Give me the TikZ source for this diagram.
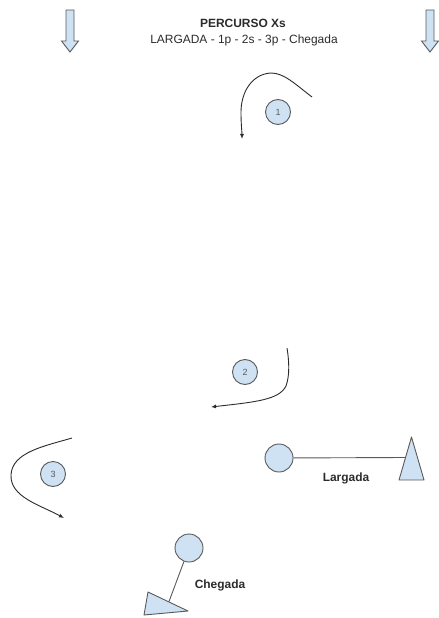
\documentclass[tikz,border=0pt]{standalone}
\usepackage{fontspec}
\setmainfont{Liberation Sans}
\usetikzlibrary{arrows.meta}
\definecolor{fillblue}{HTML}{CFE2F3}
\definecolor{edge}{HTML}{595959}
\definecolor{ink}{HTML}{2B2B2B}
\begin{document}
\begin{tikzpicture}[x=1bp,y=-1bp,
  buoy/.style={circle,draw=edge,fill=fillblue,line width=0.9bp,minimum size=25bp,inner sep=0pt,font=\fontsize{9}{10}\selectfont,text=edge},
  endbuoy/.style={circle,draw=edge,fill=fillblue,line width=0.9bp,minimum size=28bp,inner sep=0pt},
  tri/.style={draw=edge,fill=fillblue,line width=0.9bp,line join=round},
  downarrow/.style={draw=edge,fill=fillblue,line width=0.9bp},
  route/.style={draw=ink,line width=0.9bp,-{Latex[length=5bp,width=4bp]}},
  lineconn/.style={draw=edge,line width=0.9bp},
  lbl/.style={text=ink,inner sep=0pt,font=\fontsize{12}{14}\selectfont},
  boldlbl/.style={text=ink,inner sep=0pt,font=\fontsize{12}{14}\selectfont\bfseries}
]
\useasboundingbox (0,0) rectangle (439,618);

% down arrows
\foreach \cx in {70,430}{
  \draw[downarrow] (\cx-4,10) -- (\cx+4,10) -- (\cx+4,41) -- (\cx+8.5,41) -- (\cx,52) -- (\cx-8.5,41) -- (\cx-4,41) -- cycle;
}

% title
\node[boldlbl] (title) at (243,23) {PERCURSO Xs};
\node[lbl] (sub) at (244,40) {LARGADA - 1p - 2s - 3p - Chegada};

% numbered buoys
\node[buoy] (b1) at (278,112) {1};
\node[buoy] (b2) at (245,372) {2};
\node[buoy] (b3) at (53,474) {3};

% rounding paths
\coordinate (r1s) at (312,97);
\coordinate (r1e) at (242,139);
\draw[route] (r1s) .. controls (295,84) and (284,73) .. (271,73)
  .. controls (252,74) and (241,92) .. (241,112)
  .. controls (241,125) and (242,132) .. (r1e);

\coordinate (r2s) at (287,348);
\coordinate (r2e) at (211,407);
\draw[route] (r2s) .. controls (289,360) and (290,375) .. (286,386)
  .. controls (279,400) and (255,402) .. (r2e);

\coordinate (r3s) at (72,438);
\coordinate (r3e) at (64,518);
\draw[route] (r3s) .. controls (45,446) and (12,452) .. (11,475)
  .. controls (10,497) and (40,505) .. (r3e);

% start line
\node[endbuoy] (ls) at (279,458) {};
\draw[tri] (411.5,437) -- (424,480) -- (399,480) -- cycle;
\coordinate (lt) at (405,457.5);
\draw[lineconn] (ls) -- (lt);
\node[boldlbl] (llbl) at (346,478) {Largada};

% finish line
\node[endbuoy] (cs) at (189,548) {};
\draw[tri] (148,592) -- (188,611) -- (144,615) -- cycle;
\coordinate (ct) at (169,601.5);
\draw[lineconn] (cs) -- (ct);
\node[boldlbl] (clbl) at (220,585) {Chegada};
\end{tikzpicture}
\end{document}
